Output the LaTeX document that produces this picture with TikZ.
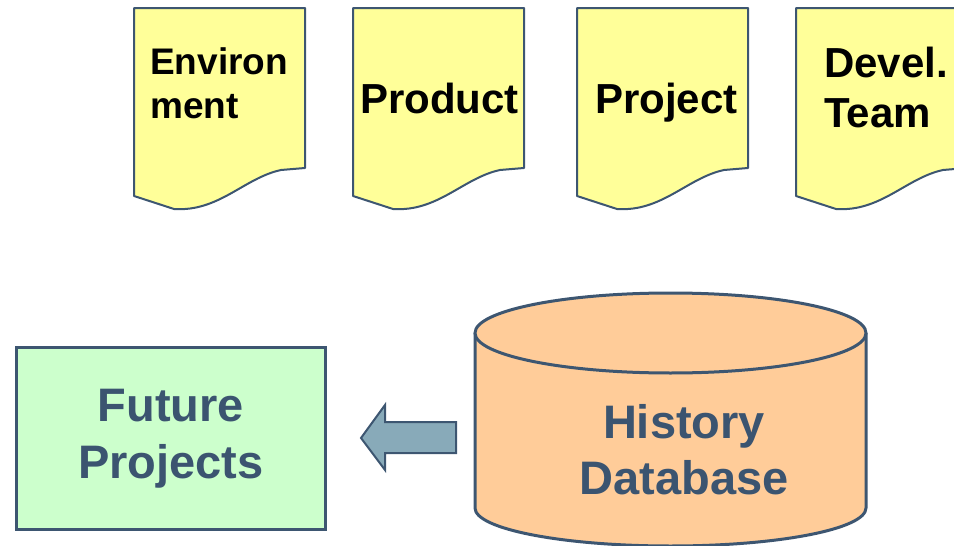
\documentclass[tikz,border=0pt]{standalone}
\usepackage{fontspec}
\setmainfont{Liberation Sans}
\usetikzlibrary{shapes.geometric}
\definecolor{edge}{HTML}{3D5671}
\definecolor{docfill}{HTML}{FFFF99}
\definecolor{boxfill}{HTML}{CCFFCC}
\definecolor{dbfill}{HTML}{FFCC99}
\definecolor{arrowfill}{HTML}{88AAB9}
\definecolor{inktext}{HTML}{3B5470}
\tikzset{
  docpage/.style={draw=edge, fill=docfill, line width=2pt, line join=round},
  doctext/.style={inner sep=0pt, anchor=base west, align=left, text=black},
  darklabel/.style={inner sep=0pt, align=center, text=inktext},
}
% document symbol with a wavy lower edge, left edge at #1
\newcommand{\docshape}[2]{%
  \draw[docpage] (#1,8) -- ++(171,0) -- ++(0,160)
    -- ++(-24,2) .. controls ++(-37,8) and ++(45,3) .. ++(-107,39)
    -- ++(-40,-13) -- cycle;
  \coordinate (#2) at (#1,8);
}
\begin{document}
\begin{tikzpicture}[x=1pt,y=-1pt]
  \clip (0,0) rectangle (954,546);

  % four input documents (multi-line labels are placed by their last baseline)
  \docshape{134}{env}
  \docshape{353}{prod}
  \docshape{577}{proj}
  \docshape{796}{team}
  \node[doctext, font=\bfseries\fontsize{37}{44}\selectfont] (envtext) at (150,118) {Environ\\ment};
  \node[doctext, font=\bfseries\fontsize{42}{49}\selectfont] (prodtext) at (360,113) {Product};
  \node[doctext, font=\bfseries\fontsize{42}{49}\selectfont] (projtext) at (595,113) {Project};
  \node[doctext, font=\bfseries\fontsize{42}{50}\selectfont] (teamtext) at (824,127) {Devel.\\Team};

  % future projects box
  \node[draw=edge, fill=boxfill, line width=2.5pt, minimum width=309pt, minimum height=182pt,
        inner sep=0pt, anchor=north west] (future) at (15,346) {};
  \node[darklabel, font=\bfseries\fontsize{47}{57}\selectfont] (futuretext) at (future.center) {Future\\Projects};

  % history database cylinder
  \draw[draw=edge, fill=dbfill, line width=3pt]
    (475,333) -- (475,508)
    arc[start angle=180, end angle=360, x radius=195.5pt, y radius=38pt]
    -- (866,333);
  \node[draw=edge, fill=dbfill, line width=3pt, ellipse, inner sep=0pt,
        minimum width=391pt, minimum height=80pt] (dbtop) at (670.5,333) {};
  \node[darklabel, font=\bfseries\fontsize{47}{56}\selectfont] (db) at (684,450) {History\\Database};

  % block arrow pointing from the database to the future projects
  \coordinate (tip) at (361,438);
  \draw[draw=edge, fill=arrowfill, line width=2pt, line join=miter]
    (tip) -- (385,405) -- (385,422) -- (456,422) -- (456,453)
    -- (385,453) -- (385,470) -- cycle;
\end{tikzpicture}
\end{document}
